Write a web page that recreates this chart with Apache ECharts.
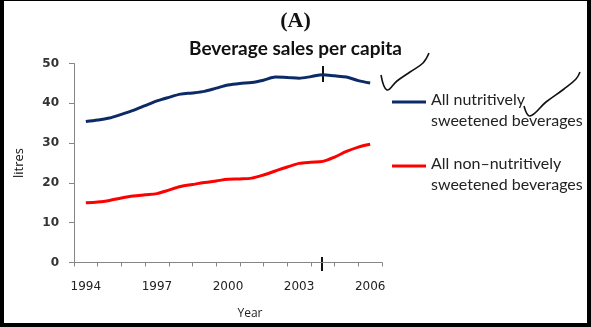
<!DOCTYPE html>
<html>
<head>
<meta charset="utf-8">
<script src="https://cdn.jsdelivr.net/npm/echarts@6/dist/echarts.min.js"></script>
<style>
  html, body { margin: 0; padding: 0; background: #ffffff; }
  #chart { width: 591px; height: 327px; }
</style>
</head>
<body>
<div id="chart"></div>
<script>
// ---- data ----
const years = ['1994','1995','1996','1997','1998','1999','2000','2001','2002','2003','2004','2005','2006'];
const samplePoints = [1994, 1994.5, 1995, 1995.5, 1996, 1996.5, 1997, 1997.5, 1998, 1998.5, 1999, 1999.5,
                      2000, 2000.5, 2001, 2001.5, 2002, 2002.5, 2003, 2003.5, 2004, 2004.5, 2005, 2005.5, 2006];
const nutritive = [35.4, 35.8, 36.3, 37.2, 38.2, 39.4, 40.6, 41.5, 42.3, 42.6, 43.0, 43.8,
                   44.6, 45.0, 45.2, 45.8, 46.6, 46.5, 46.3, 46.7, 47.2, 46.9, 46.6, 45.7, 45.1];
const nonNutritive = [15.0, 15.2, 15.6, 16.2, 16.7, 17.0, 17.3, 18.2, 19.1, 19.6, 20.1, 20.5,
                      20.9, 21.0, 21.2, 22.0, 23.0, 24.0, 24.9, 25.2, 25.4, 26.5, 27.9, 29.0, 29.7];
const seriesNames = ['All nutritively\nsweetened beverages', 'All non\u2013nutritively\nsweetened beverages'];
const yTicks = [0, 10, 20, 30, 40, 50];

function pairs(xs, ys) { return xs.map((x, i) => [x, ys[i]]); }

const chart = echarts.init(document.getElementById('chart'), null, { renderer: 'canvas' });

const axisGrey = '#868686';
const legendText = {
  fontFamily: 'Lato', fontSize: 16, color: '#222',
  rich: {
    s: { fontSize: 2, lineHeight: 17 },
    a: { fontFamily: 'Lato', fontSize: 16, lineHeight: 21, color: '#222' }
  }
};
function legendFormatter(name) {
  return '{s| }\n' + name.split('\n').map(l => '{a|' + l + '}').join('\n');
}

chart.setOption({
  animation: false,
  backgroundColor: '#ffffff',
  title: [
    { text: '(A)', left: 'center', top: 5,
      textStyle: { fontFamily: 'Liberation Serif', fontWeight: 'bold', fontSize: 22, color: '#111' } },
    { text: 'Beverage sales per capita', left: 'center', top: 34,
      textStyle: { fontFamily: 'Lato', fontWeight: 'bold', fontSize: 19, color: '#111' } }
  ],
  legend: [
    { data: [seriesNames[0]], orient: 'vertical', left: 392, top: 80, padding: 0, icon: 'rect',
      itemWidth: 34, itemHeight: 3, itemGap: 4, formatter: legendFormatter, textStyle: legendText, selectedMode: false },
    { data: [seriesNames[1]], orient: 'vertical', left: 392, top: 144, padding: 0, icon: 'rect',
      itemWidth: 34, itemHeight: 3, itemGap: 4, formatter: legendFormatter, textStyle: legendText, selectedMode: false }
  ],
  grid: { left: 74, right: 209, top: 63.5, bottom: 64.5, containLabel: false },
  xAxis: [
    { type: 'category', data: years, boundaryGap: true, position: 'bottom',
      name: 'Year', nameLocation: 'middle', nameGap: 45,
      nameTextStyle: { fontFamily: 'Open Sans', fontSize: 12, color: '#222', padding: [0, 0, 0, 44] },
      axisLine: { lineStyle: { color: axisGrey, width: 1 } },
      axisTick: { show: true, interval: 0, length: 4, lineStyle: { color: axisGrey } },
      axisLabel: { interval: 2, margin: 18, fontFamily: 'DejaVu Sans', fontSize: 12, color: '#222' },
      splitLine: { show: false } },
    { type: 'value', min: 1993.5, max: 2006.5, show: false }
  ],
  yAxis: {
    type: 'value', min: yTicks[0], max: yTicks[yTicks.length - 1], interval: 10,
    name: 'litres', nameLocation: 'middle', nameGap: 48, nameRotate: 90,
    nameTextStyle: { fontFamily: 'Open Sans', fontSize: 13, color: '#111' },
    axisLine: { show: true, lineStyle: { color: axisGrey, width: 1 } },
    axisTick: { show: true, length: 5, lineStyle: { color: axisGrey } },
    axisLabel: { margin: 15, fontFamily: 'DejaVu Sans', fontSize: 12, fontWeight: 'bold', color: '#333' },
    splitLine: { show: false }
  },
  series: [
    { name: seriesNames[0], type: 'line', xAxisIndex: 1, data: pairs(samplePoints, nutritive),
      showSymbol: false, symbol: 'none', smooth: 0.3,
      lineStyle: { color: '#0b2a66', width: 3 }, itemStyle: { color: '#0b2a66' } },
    { name: seriesNames[1], type: 'line', xAxisIndex: 1, data: pairs(samplePoints, nonNutritive),
      showSymbol: false, symbol: 'none', smooth: 0.3,
      lineStyle: { color: '#ff0000', width: 3 }, itemStyle: { color: '#ff0000' } }
  ],
  graphic: [
    // frame
    { type: 'rect', shape: { x: 0, y: 0, width: 4, height: 327 }, style: { fill: '#000' } },
    { type: 'rect', shape: { x: 587, y: 0, width: 4, height: 327 }, style: { fill: '#000' } },
    { type: 'rect', shape: { x: 0, y: 323, width: 591, height: 4 }, style: { fill: '#000' } },
    { type: 'rect', shape: { x: 0, y: 0, width: 591, height: 1 }, style: { fill: '#000' } },
    // hand-drawn marks
    { type: 'line', shape: { x1: 323, y1: 66, x2: 323, y2: 82 }, style: { stroke: '#111', lineWidth: 2 } },
    { type: 'line', shape: { x1: 322, y1: 257, x2: 322, y2: 271 }, style: { stroke: '#111', lineWidth: 2 } },
    { type: 'polyline', shape: { points: [[381, 75], [387, 90], [397, 81], [410, 72], [423, 63], [429, 53]], smooth: 0.4 },
      style: { stroke: '#111', lineWidth: 1.6, fill: null } },
    { type: 'polyline', shape: { points: [[524, 106], [530, 116], [546, 102], [564, 89], [576, 79], [580, 72]], smooth: 0.4 },
      style: { stroke: '#111', lineWidth: 1.6, fill: null } }
  ]
});
</script>
</body>
</html>
